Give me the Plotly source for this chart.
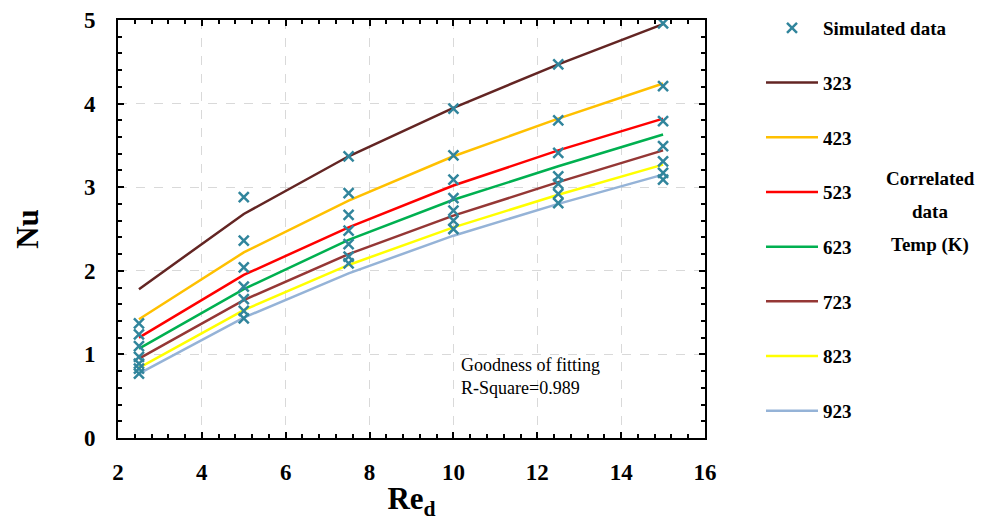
import plotly.graph_objects as go

# Reynolds numbers at which the cases were run
re_d = [2.5, 5, 7.5, 10, 12.5, 15]

# Correlated Nusselt number curves, one per temperature (K)
temps = ["323", "423", "523", "623", "723", "823", "923"]
nu_323 = [1.78, 2.68, 3.37, 3.95, 4.47, 4.95]
nu_423 = [1.42, 2.22, 2.84, 3.37, 3.82, 4.24]
nu_523 = [1.20, 1.95, 2.52, 3.02, 3.44, 3.82]
nu_623 = [1.07, 1.78, 2.37, 2.85, 3.25, 3.63]
nu_723 = [0.95, 1.65, 2.20, 2.66, 3.06, 3.44]
nu_823 = [0.84, 1.53, 2.07, 2.52, 2.91, 3.27]
nu_923 = [0.77, 1.44, 1.97, 2.42, 2.80, 3.15]
correlated = [nu_323, nu_423, nu_523, nu_623, nu_723, nu_823, nu_923]
line_colors = ["#632523", "#FFC000", "#FF0000", "#00B050", "#953735", "#FFFF00", "#95B3D7"]

# Simulated Nusselt numbers at each Re_d (one value per temperature)
sim_re = [2.5] * 7 + [5] * 7 + [7.5] * 7 + [10] * 7 + [12.5] * 7 + [15] * 7
sim_nu = [1.37, 1.24, 1.10, 0.97, 0.89, 0.83, 0.77,
          2.88, 2.36, 2.04, 1.81, 1.66, 1.52, 1.43,
          3.37, 2.93, 2.67, 2.48, 2.32, 2.17, 2.09,
          3.94, 3.38, 3.09, 2.87, 2.72, 2.60, 2.50,
          4.47, 3.80, 3.41, 3.13, 3.04, 2.92, 2.81,
          4.96, 4.21, 3.79, 3.49, 3.31, 3.17, 3.09]

SERIF = "Liberation Serif, Times New Roman, serif"

# plot-area geometry in pixels
W, H = 984, 523
ML, MR, MT, MB = 118, 279, 20, 85
PW, PH = W - ML - MR, H - MT - MB


def px_x(x):
    return (x - ML) / PW


def px_y(y):
    return (H - MB - y) / PH


fig = go.Figure()

for i, (t, nu, c) in enumerate(zip(temps, correlated, line_colors)):
    fig.add_trace(go.Scatter(
        x=re_d, y=nu, mode="lines", name=t,
        line=dict(color=c, width=2.5),
        legendgroup=t, legendrank=i + 2,
    ))

fig.add_trace(go.Scatter(
    x=sim_re, y=sim_nu, mode="markers", name="Simulated data",
    marker=dict(symbol="x-thin", size=10, line=dict(color="#31859C", width=2.5)),
    legendgroup="sim", legendrank=1,
))

axis_common = dict(
    showline=True, linecolor="black", linewidth=2, mirror="ticks",
    ticks="inside", ticklen=6, tickwidth=1.5, tickcolor="black",
    showgrid=True, gridcolor="#D9D9D9", griddash="dash", gridwidth=1.2,
    zeroline=False,
    tickfont=dict(family=SERIF, size=23, color="black", weight="bold"),
)

fig.update_xaxes(
    range=[2, 16], dtick=2, tick0=2,
    minor=dict(ticks="inside", dtick=0.4, tick0=2, ticklen=4, tickcolor="black", showgrid=False),
    ticklabelstandoff=12,
    title=dict(text="<b>Re<sub>d</sub></b>", font=dict(family=SERIF, size=31, color="black"), standoff=4),
    **axis_common,
)
fig.update_yaxes(
    range=[0, 5], dtick=1, tick0=0,
    minor=dict(ticks="inside", dtick=0.2, tick0=0, ticklen=4, tickcolor="black", showgrid=False),
    ticklabelstandoff=16,
    title=dict(text="<b>Nu</b>", font=dict(family=SERIF, size=31, color="black"), standoff=36),
    **axis_common,
)

fig.add_annotation(
    x=px_x(459), y=px_y(376), xref="paper", yref="paper", xanchor="left", yanchor="middle",
    text="Goodness of fitting<br>R-Square=0.989", showarrow=False, align="left",
    font=dict(family=SERIF, size=18, color="black"),
)

# caption beside the temperature legend
for txt, ypix in [("Correlated", 178), ("data", 212), ("Temp (K)", 245)]:
    fig.add_annotation(
        x=px_x(930), y=px_y(ypix), xref="paper", yref="paper",
        xanchor="center", yanchor="middle", showarrow=False,
        text="<b>" + txt + "</b>",
        font=dict(family=SERIF, size=19, color="black"),
    )

fig.update_layout(
    width=W, height=H,
    margin=dict(l=ML, r=MR, t=MT, b=MB, autoexpand=False),
    paper_bgcolor="white", plot_bgcolor="white",
    showlegend=True,
    legend=dict(
        x=px_x(761), xanchor="left", y=px_y(9), yanchor="top",
        traceorder="grouped", tracegroupgap=27, itemwidth=52,
        maxheight=1.0,
        font=dict(family=SERIF, size=19, color="black", weight="bold"),
        bgcolor="rgba(0,0,0,0)",
    ),
)

fig.write_html("out.html")
